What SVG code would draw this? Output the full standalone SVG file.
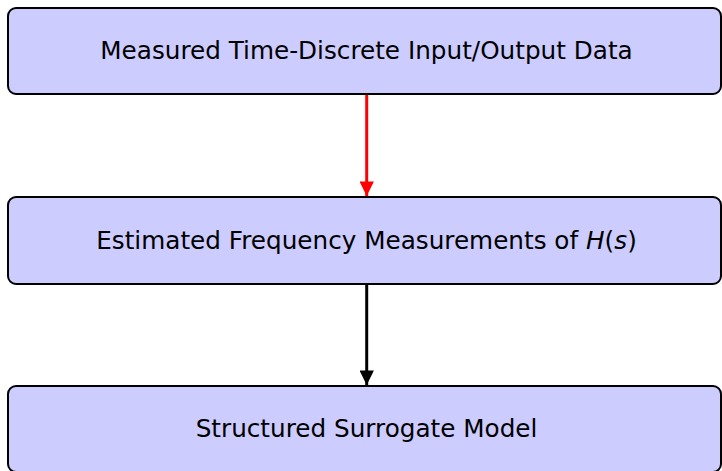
<svg xmlns="http://www.w3.org/2000/svg" width="722" height="471" viewBox="0 0 722 471">
  <style>
    .box { fill: #ccccff; stroke: #000; stroke-width: 2; }
    .label { font-family: "DejaVu Sans", "Liberation Sans", sans-serif; font-size: 24.7px; fill: #000; text-anchor: middle; dominant-baseline: central; }
    .edge { fill: none; stroke-width: 3; }
  </style>
  <defs>
    <marker id="headRed" viewBox="0 0 10 10" refX="10" refY="5" markerWidth="6" markerHeight="4.8" orient="auto" markerUnits="strokeWidth">
      <path d="M0,0 L10,5 L0,10 Z" fill="#ff0000"/>
    </marker>
    <marker id="headBlack" viewBox="0 0 10 10" refX="10" refY="5" markerWidth="6" markerHeight="4.8" orient="auto" markerUnits="strokeWidth">
      <path d="M0,0 L10,5 L0,10 Z" fill="#000"/>
    </marker>
  </defs>

  <g id="node-data">
    <rect class="box" x="8" y="8" width="713" height="86" rx="8"/>
    <text class="label" x="366.5" y="50">Measured Time-Discrete Input/Output Data</text>
  </g>

  <g id="node-freq">
    <rect class="box" x="8" y="197" width="713" height="87" rx="8"/>
    <text class="label" x="366.5" y="240">Estimated Frequency Measurements of <tspan font-style="italic">H</tspan>(<tspan font-style="italic">s</tspan>)</text>
  </g>

  <g id="node-model">
    <rect class="box" x="8" y="386" width="713" height="86" rx="8"/>
    <text class="label" x="366.5" y="428">Structured Surrogate Model</text>
  </g>

  <g id="connectors">
    <line class="edge" x1="366.7" y1="95" x2="366.7" y2="196" stroke="#ff0000" marker-end="url(#headRed)"/>
    <line class="edge" x1="366.7" y1="285" x2="366.7" y2="385" stroke="#000" marker-end="url(#headBlack)"/>
  </g>
</svg>
